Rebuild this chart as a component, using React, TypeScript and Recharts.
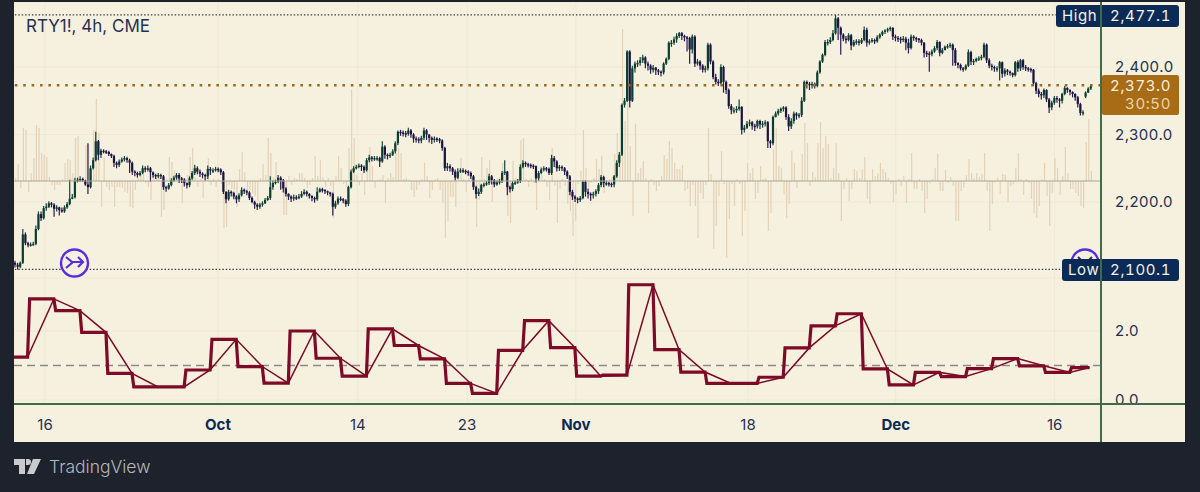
import React from 'react';
import {
  ComposedChart,
  Bar,
  Line,
  XAxis,
  YAxis,
  CartesianGrid,
  ReferenceLine
} from 'recharts';

// 4h bars
const closes = [
  2107,2104,2110,2152,2139,2136,2137,2138,2160,2182,2176,2191,2193,2198,2196,2190,2192,2188,2186,2192,
  2197,2205,2207,2231,2233,2234,2232,2226,2222,2250,2262,2290,2270,2276,2275,2274,2271,2268,2258,2255,
  2260,2263,2265,2262,2258,2245,2243,2240,2243,2250,2248,2250,2244,2240,2238,2240,2238,2222,2220,2225,
  2232,2236,2240,2235,2233,2228,2225,2235,2243,2250,2245,2242,2240,2238,2249,2247,2247,2249,2248,2244,
  2215,2204,2215,2213,2208,2204,2210,2218,2216,2214,2206,2200,2196,2193,2196,2198,2203,2206,2222,2228,
  2230,2236,2232,2220,2212,2208,2205,2207,2206,2208,2212,2215,2212,2209,2206,2204,2215,2219,2218,2216,
  2214,2212,2193,2198,2205,2204,2202,2197,2222,2245,2250,2252,2254,2252,2247,2262,2266,2264,2265,2265,
  2260,2282,2270,2268,2270,2275,2287,2304,2303,2302,2301,2306,2300,2294,2293,2291,2295,2306,2300,2295,
  2292,2294,2293,2291,2280,2250,2253,2250,2245,2236,2245,2247,2246,2245,2243,2238,2222,2212,2215,2225,
  2226,2228,2238,2232,2226,2229,2231,2243,2245,2222,2219,2228,2229,2231,2252,2258,2256,2255,2254,2253,
  2235,2243,2248,2250,2249,2243,2265,2260,2250,2252,2250,2245,2238,2215,2208,2205,2203,2206,2230,2215,
  2212,2210,2212,2216,2225,2237,2228,2228,2227,2226,2238,2258,2270,2344,2350,2423,2350,2398,2405,2406,
  2410,2414,2405,2402,2396,2399,2395,2393,2392,2405,2412,2436,2436,2441,2446,2450,2446,2444,2443,2426,
  2445,2405,2408,2402,2396,2398,2433,2408,2385,2378,2376,2400,2378,2366,2342,2336,2336,2338,2341,2307,
  2310,2316,2318,2313,2312,2320,2315,2316,2318,2290,2287,2326,2331,2335,2338,2340,2326,2312,2320,2331,
  2328,2329,2350,2378,2375,2373,2375,2372,2392,2408,2418,2437,2437,2440,2450,2472,2458,2448,2442,2440,
  2447,2432,2437,2438,2436,2440,2455,2436,2438,2440,2438,2444,2448,2452,2454,2456,2458,2445,2443,2442,
  2440,2442,2436,2428,2445,2443,2442,2440,2436,2421,2420,2419,2423,2428,2437,2421,2425,2430,2431,2433,
  2425,2406,2403,2398,2397,2402,2422,2408,2409,2412,2413,2415,2433,2410,2402,2400,2398,2398,2407,2390,
  2395,2393,2391,2388,2407,2398,2410,2400,2398,2397,2396,2376,2365,2360,2358,2366,2352,2340,2347,2354,
  2352,2350,2360,2369,2366,2363,2360,2355,2345,2332,2333,2362,2368,2372
];
const opens = [
  2110,2107,2104,2110,2152,2139,2136,2137,2138,2160,2182,2176,2191,2193,2198,2196,2190,2192,2188,2186,
  2192,2197,2205,2207,2231,2233,2234,2232,2226,2222,2250,2262,2290,2270,2276,2275,2274,2271,2268,2258,
  2255,2260,2263,2265,2262,2258,2245,2243,2240,2243,2250,2248,2250,2244,2240,2238,2240,2238,2222,2220,
  2225,2232,2236,2240,2235,2233,2228,2225,2235,2243,2250,2245,2242,2240,2238,2249,2247,2247,2249,2248,
  2244,2215,2204,2215,2213,2208,2204,2210,2218,2216,2214,2206,2200,2196,2193,2196,2198,2203,2206,2222,
  2228,2230,2236,2232,2220,2212,2208,2205,2207,2206,2208,2212,2215,2212,2209,2206,2204,2215,2219,2218,
  2216,2214,2212,2193,2198,2205,2204,2202,2197,2222,2245,2250,2252,2254,2252,2247,2262,2266,2264,2265,
  2265,2260,2282,2270,2268,2270,2275,2287,2304,2303,2302,2301,2306,2300,2294,2293,2291,2295,2306,2300,
  2295,2292,2294,2293,2291,2280,2250,2253,2250,2245,2236,2245,2247,2246,2245,2243,2238,2222,2212,2215,
  2225,2226,2228,2238,2232,2226,2229,2231,2243,2245,2222,2219,2228,2229,2231,2252,2258,2256,2255,2254,
  2253,2235,2243,2248,2250,2249,2243,2265,2260,2250,2252,2250,2245,2238,2215,2208,2205,2203,2206,2230,
  2215,2212,2210,2212,2216,2225,2237,2228,2228,2227,2226,2238,2258,2270,2344,2350,2423,2350,2398,2405,
  2406,2410,2414,2405,2402,2396,2399,2395,2393,2392,2405,2412,2436,2436,2441,2446,2450,2446,2444,2443,
  2426,2445,2405,2408,2402,2396,2398,2433,2408,2385,2378,2376,2400,2378,2366,2342,2336,2336,2338,2341,
  2307,2310,2316,2318,2313,2312,2320,2315,2316,2318,2290,2287,2326,2331,2335,2338,2340,2326,2312,2320,
  2331,2328,2329,2350,2378,2375,2373,2375,2372,2392,2408,2418,2437,2437,2440,2450,2472,2458,2448,2442,
  2440,2447,2432,2437,2438,2436,2440,2455,2436,2438,2440,2438,2444,2448,2452,2454,2456,2458,2445,2443,
  2442,2440,2442,2436,2428,2445,2443,2442,2440,2436,2421,2420,2419,2423,2428,2437,2421,2425,2430,2431,
  2433,2425,2406,2403,2398,2397,2402,2422,2408,2409,2412,2413,2415,2433,2410,2402,2400,2398,2398,2407,
  2390,2395,2393,2391,2388,2407,2398,2410,2400,2398,2397,2396,2376,2365,2360,2358,2366,2352,2340,2347,
  2354,2352,2350,2360,2369,2366,2363,2360,2355,2345,2332,2356,2362,2368
];
const highs = [
  2113,2110,2112,2160,2155,2141,2140,2141,2165,2186,2186,2194,2198,2201,2200,2198,2195,2193,2192,2195,
  2200,2233,2212,2236,2236,2238,2236,2233,2287,2254,2266,2304,2292,2279,2278,2277,2276,2272,2270,2260,
  2263,2266,2268,2267,2264,2260,2247,2245,2246,2254,2253,2254,2252,2245,2242,2243,2242,2240,2224,2228,
  2235,2239,2243,2243,2237,2235,2229,2238,2246,2255,2253,2248,2244,2242,2254,2252,2250,2252,2251,2250,
  2246,2216,2218,2217,2215,2210,2213,2222,2220,2218,2216,2208,2202,2198,2199,2201,2206,2209,2238,2232,
  2233,2240,2238,2234,2222,2213,2210,2211,2210,2212,2216,2219,2217,2213,2210,2208,2222,2221,2221,2219,
  2217,2215,2214,2202,2208,2208,2206,2204,2224,2248,2253,2255,2257,2256,2254,2265,2270,2268,2268,2268,
  2267,2290,2284,2272,2273,2278,2290,2306,2307,2306,2305,2310,2308,2302,2297,2296,2298,2310,2308,2300,
  2297,2297,2296,2295,2293,2282,2258,2256,2252,2248,2250,2250,2250,2248,2247,2245,2240,2224,2220,2227,
  2229,2231,2242,2240,2234,2232,2234,2246,2262,2246,2224,2231,2232,2234,2256,2262,2260,2258,2257,2256,
  2254,2246,2251,2253,2252,2251,2270,2268,2262,2255,2254,2252,2247,2240,2218,2210,2207,2209,2232,2232,
  2220,2214,2215,2219,2228,2240,2239,2232,2230,2229,2240,2262,2274,2346,2354,2425,2425,2402,2408,2410,
  2415,2418,2416,2408,2404,2403,2400,2397,2395,2407,2414,2438,2440,2445,2450,2452,2452,2448,2446,2445,
  2448,2447,2412,2410,2404,2402,2436,2435,2410,2390,2382,2404,2402,2380,2368,2345,2340,2342,2352,2342,
  2314,2320,2322,2320,2316,2322,2322,2320,2321,2320,2292,2328,2334,2338,2340,2342,2342,2330,2324,2334,
  2333,2332,2355,2380,2380,2378,2378,2377,2395,2410,2420,2440,2441,2444,2455,2477,2474,2460,2450,2446,
  2450,2449,2440,2441,2441,2443,2460,2458,2441,2443,2442,2447,2450,2454,2456,2458,2460,2459,2448,2446,
  2445,2446,2445,2442,2448,2447,2445,2443,2442,2437,2424,2423,2426,2431,2440,2438,2428,2432,2434,2436,
  2435,2428,2407,2405,2400,2404,2426,2424,2412,2414,2416,2418,2436,2435,2413,2405,2402,2401,2409,2408,
  2398,2397,2395,2392,2409,2410,2412,2412,2403,2400,2399,2397,2378,2368,2363,2368,2367,2354,2350,2357,
  2357,2354,2362,2372,2370,2367,2364,2361,2357,2347,2336,2364,2370,2374
];
const lows = [
  2103,2100,2102,2108,2136,2133,2134,2135,2136,2158,2172,2174,2187,2191,2192,2178,2186,2180,2184,2184,
  2190,2195,2204,2205,2229,2230,2230,2224,2212,2220,2248,2260,2262,2265,2272,2271,2268,2265,2252,2250,
  2252,2258,2260,2258,2243,2240,2238,2236,2238,2241,2244,2245,2230,2236,2234,2235,2234,2218,2215,2218,
  2223,2230,2233,2228,2228,2223,2220,2222,2233,2240,2241,2237,2235,2232,2234,2240,2243,2245,2244,2240,
  2212,2198,2202,2208,2204,2198,2200,2208,2212,2210,2203,2198,2190,2188,2190,2193,2197,2202,2203,2218,
  2226,2228,2218,2214,2208,2203,2200,2202,2203,2204,2206,2210,2208,2205,2201,2199,2202,2214,2214,2212,
  2210,2208,2180,2190,2196,2201,2198,2193,2194,2220,2243,2248,2250,2246,2243,2245,2259,2260,2261,2261,
  2252,2258,2264,2263,2265,2268,2272,2284,2298,2297,2296,2298,2295,2288,2288,2287,2287,2292,2292,2288,
  2286,2288,2289,2287,2276,2246,2246,2245,2240,2232,2234,2243,2243,2241,2239,2234,2218,2205,2209,2212,
  2222,2224,2225,2226,2222,2224,2226,2228,2240,2210,2214,2216,2225,2227,2228,2250,2252,2251,2250,2249,
  2229,2232,2241,2245,2245,2240,2240,2252,2245,2246,2246,2240,2234,2210,2203,2200,2198,2200,2204,2208,
  2205,2202,2205,2208,2212,2222,2222,2224,2223,2222,2222,2236,2252,2268,2340,2348,2340,2348,2392,2400,
  2402,2406,2398,2395,2390,2392,2388,2388,2386,2389,2403,2410,2430,2433,2436,2443,2440,2438,2423,2405,
  2420,2400,2402,2396,2392,2392,2395,2404,2382,2374,2372,2374,2362,2360,2338,2330,2331,2332,2335,2300,
  2303,2308,2312,2307,2305,2309,2308,2310,2312,2280,2280,2284,2325,2328,2332,2334,2322,2305,2308,2316,
  2322,2324,2326,2348,2368,2366,2368,2368,2370,2390,2406,2416,2432,2434,2438,2448,2440,2418,2438,2435,
  2438,2425,2430,2433,2432,2434,2438,2430,2433,2436,2434,2436,2442,2446,2449,2451,2453,2440,2438,2437,
  2435,2437,2425,2420,2426,2439,2437,2436,2432,2414,2415,2393,2416,2421,2425,2416,2419,2425,2427,2428,
  2402,2402,2398,2395,2393,2395,2400,2403,2403,2407,2409,2410,2413,2406,2398,2395,2393,2393,2380,2384,
  2386,2388,2387,2385,2386,2393,2394,2396,2394,2393,2392,2372,2360,2355,2352,2354,2348,2332,2336,2344,
  2347,2340,2346,2358,2362,2358,2355,2350,2340,2328,2328,2354,2362,2366
];
// histogram around the mid line of the price pane
const deltas = [
  3,17,-7,53,51,-11,8,23,56,53,28,26,24,4,-4,-9,-4,-4,2,18,
  22,21,8,43,45,2,4,36,37,10,51,82,48,-26,24,-6,-9,-6,-26,-6,
  -6,-7,-11,-12,-26,-27,-9,3,6,11,-2,-6,-19,8,3,6,-36,-29,2,24,
  19,11,4,4,-22,3,6,24,33,4,-6,2,-17,3,23,-4,2,-6,2,-3,
  -47,-46,-4,-8,-9,-26,12,29,9,-8,-10,-12,-15,-20,3,17,6,43,28,4,
  19,-3,-8,-34,-34,5,-4,3,2,8,8,3,-7,-4,3,25,5,21,4,-6,
  3,-5,-37,5,25,13,-3,-6,33,91,43,6,-4,8,-14,10,34,15,-7,1,
  2,6,-22,3,8,4,28,33,28,2,3,1,-9,-16,-9,-4,2,18,5,-17,
  -9,2,3,-9,-22,-57,-40,-16,-16,-26,3,23,2,-11,3,2,4,-46,-19,24,
  2,13,21,-21,2,3,4,18,11,-35,-42,20,3,2,41,43,2,-6,3,-2,
  -29,2,6,2,-6,-19,33,-5,-42,-8,2,-5,-23,-30,-55,-40,-3,10,51,13,
  -6,-2,3,22,12,25,-12,-3,2,4,27,48,20,152,60,98,35,-35,57,8,
  13,20,3,-32,2,-4,-10,-5,5,26,22,40,33,18,12,12,16,-10,-8,-25,
  -4,-25,-57,-12,-18,-4,53,7,-68,-45,-15,30,-3,-77,-38,-3,-25,2,-3,-55,
  -30,18,8,13,-18,-12,15,2,3,-50,-32,32,53,15,13,-13,-37,-23,30,18,
  -7,1,27,58,38,-5,9,4,38,59,33,45,37,3,13,38,8,-40,-8,3,
  -20,-8,12,10,3,12,24,-18,-23,12,5,8,18,12,9,3,-3,-21,-13,2,
  -5,5,-22,2,28,-8,-8,2,-10,-32,-18,-2,2,13,27,-10,-10,11,-2,4,
  -5,-40,-40,-10,-7,6,22,8,3,8,4,7,28,-10,-50,-23,-2,3,-13,7,
  6,-21,-5,-3,13,28,2,-14,2,-2,-18,-32,-37,-25,2,18,-15,-45,-12,23,
  13,-14,5,34,8,-8,-8,-12,-15,-25,-27,39,62,10
];

// lower pane: one value per 10 bar block
const leadIn = 1.24;
const blockValues = [
  2.93,2.59,1.96,0.77,0.38,0.38,0.87,1.76,0.97,0.49,
  2.0,1.21,0.69,2.06,1.58,1.19,0.48,0.19,1.44,2.3,
  1.52,0.69,0.72,3.34,1.46,0.81,0.48,0.48,0.66,1.51,
  2.15,2.5,0.9,0.44,0.8,0.68,0.91,1.2,0.99,0.8,0.94
];

const priceTicks = [2200, 2300, 2400];
const indicatorTicks = [0, 2];
const timeTicks = [11.4, 77.8, 131.5, 173.4, 215.2, 281.3, 338, 399];
const timeLabels = ['16', 'Oct', '14', '23', 'Nov', '18', 'Dec', '16'];
const boldLabels = ['Oct', 'Nov', 'Dec'];

const highPrice = 2477.1;
const lowPrice = 2100.1;
const lastPrice = 2373;

const chartData = closes.map((close, i) => ({
  i,
  open: opens[i],
  high: highs[i],
  low: lows[i],
  close,
  delta: deltas[i]
}));

const stepRows: any[] = [
  { x: -0.5, thick: leadIn },
  { x: 4.7, thick: leadIn, thin: leadIn }
];
blockValues.forEach((v, k) => {
  const start = 5.5 + k * 10;
  stepRows.push({ x: start, thick: v });
  stepRows.push({ x: Math.min(start + 9.3, 412.4), thick: v, thin: v });
});

const FONT = 'Inter, Roboto, sans-serif';
const PAPER = '#f6f0df';
const DARK = '#1e222d';
const NAVY = '#0b2a55';
const TEXT = '#1f3253';
const GREEN = '#3f6b49';
const GRID = '#efe8d6';
const WINE = '#7d0a26';
const VIOLET = '#5a2ce0';

const Candle = (props: any) => {
  const { x, width, y, height, payload } = props;
  const cx = x + width / 2;
  const k = height / (payload.high - payload.low);
  const yOf = (v: number) => y + (payload.high - v) * k;
  const up = payload.close >= payload.open;
  const top = yOf(Math.max(payload.open, payload.close));
  const bottom = yOf(Math.min(payload.open, payload.close));
  return (
    <g>
      <line x1={cx} x2={cx} y1={y} y2={y + height} stroke={up ? '#12463a' : '#2c1b55'} strokeWidth={1.2} />
      <rect
        x={cx - 1.1}
        y={top}
        width={2.2}
        height={Math.max(bottom - top, 1.4)}
        fill={up ? '#0b3d30' : '#191640'}
      />
    </g>
  );
};

const TimeTick = (props: any) => {
  const { x, y, payload } = props;
  const label = timeLabels[timeTicks.indexOf(payload.value)];
  const bold = boldLabels.includes(label);
  return (
    <text
      x={x}
      y={y + 18}
      textAnchor="middle"
      fontSize={15}
      fontFamily={FONT}
      fontWeight={bold ? 700 : 400}
      fill={bold ? NAVY : TEXT}
    >
      {label}
    </text>
  );
};

const Pill = ({ label, value, top, left }: any) => (
  <div
    style={{
      position: 'absolute',
      left,
      top,
      width: 1179 - left,
      height: 22,
      background: NAVY,
      borderRadius: 3,
      color: '#f2f2ee',
      fontSize: 15,
      lineHeight: '22px',
      letterSpacing: 0.6,
      fontVariantNumeric: 'tabular-nums'
    }}
  >
    <span style={{ position: 'absolute', left: 6 }}>{label}</span>
    <span style={{ position: 'absolute', right: 8 }}>{value}</span>
  </div>
);

const axisTick = { fill: TEXT, fontSize: 15, fontFamily: FONT, letterSpacing: 0.5, fontVariantNumeric: 'tabular-nums' };

export default function App() {
  return (
    <div
      style={{
        position: 'absolute',
        left: 0,
        top: 0,
        width: 1200,
        height: 492,
        overflow: 'hidden',
        background: DARK,
        fontFamily: FONT
      }}
    >
      {/* chart panel */}
      <div style={{ position: 'absolute', left: 14, top: 2, width: 1171, height: 440, background: PAPER }} />

      <div style={{ position: 'absolute', left: 14, top: 2 }}>
        <ComposedChart
          width={1171}
          height={276}
          data={chartData}
          margin={{ top: 0, right: 0, bottom: 0, left: 0 }}
        >
          <CartesianGrid yAxisId="price" stroke={GRID} />
          <XAxis dataKey="i" type="number" domain={[-0.5, 416.8]} ticks={timeTicks} hide />
          <XAxis xAxisId="hist" dataKey="i" type="number" domain={[-0.5, 416.8]} hide />
          <YAxis
            yAxisId="price"
            orientation="right"
            width={84}
            domain={[2087.4, 2496.3]}
            ticks={priceTicks}
            axisLine={false}
            tickLine={false}
            tickMargin={8}
            tick={axisTick}
            tickFormatter={(v: number) => v.toLocaleString('en-US', { minimumFractionDigits: 1 })}
          />
          <YAxis yAxisId="hist" domain={[-97, 179]} hide />
          <Bar
            xAxisId="hist"
            yAxisId="hist"
            dataKey="delta"
            barSize={1.2}
            fill="#e2d2b8"
            isAnimationActive={false}
          />
          <ReferenceLine yAxisId="hist" y={0} stroke="#aaa496" strokeWidth={1} />
          <ReferenceLine yAxisId="price" y={highPrice} stroke="#404040" strokeWidth={1.2} strokeDasharray="1.5 1.9" />
          <ReferenceLine yAxisId="price" y={lowPrice} stroke="#404040" strokeWidth={1.2} strokeDasharray="1.5 1.9" />
          <ReferenceLine yAxisId="price" y={lastPrice} stroke="#9c6a1b" strokeWidth={2.6} strokeDasharray="2.6 5.8" />
          <Bar
            yAxisId="price"
            dataKey={(d: any) => [d.low, d.high]}
            barSize={2}
            shape={Candle}
            isAnimationActive={false}
          />
        </ComposedChart>
      </div>

      <div style={{ position: 'absolute', left: 14, top: 278 }}>
        <ComposedChart
          width={1171}
          height={164}
          data={stepRows}
          margin={{ top: 0, right: 0, bottom: 0, left: 0 }}
        >
          <CartesianGrid stroke={GRID} />
          <XAxis
            dataKey="x"
            type="number"
            domain={[-0.5, 416.8]}
            ticks={timeTicks}
            height={38}
            axisLine={false}
            tickLine={false}
            tick={TimeTick}
          />
          <YAxis
            orientation="right"
            width={84}
            domain={[-0.116, 3.536]}
            ticks={indicatorTicks}
            axisLine={false}
            tickLine={false}
            tickMargin={8}
            tick={axisTick}
            tickFormatter={(v: number) => v.toFixed(1)}
          />
          <ReferenceLine y={1} stroke="#8d8b88" strokeWidth={1.3} strokeDasharray="8 5" />
          <Line dataKey="thin" connectNulls stroke={WINE} strokeWidth={1.5} dot={false} isAnimationActive={false} />
          <Line dataKey="thick" connectNulls stroke={WINE} strokeWidth={3.2} dot={false} isAnimationActive={false} />
        </ComposedChart>
      </div>

      {/* drawing tool markers */}
      <svg width={1200} height={492} style={{ position: 'absolute', left: 0, top: 0 }}>
        <circle cx={74.5} cy={263} r={13.5} fill={PAPER} stroke={VIOLET} strokeWidth={2.4} />
        <path d="M66 268 L73 262 M66 257 L72 262 H83 M78 257 L83 262 L78 267" fill="none" stroke={VIOLET} strokeWidth={2.2} />
        <circle cx={1085} cy={263} r={13.5} fill={PAPER} stroke={VIOLET} strokeWidth={2.4} />
        <path d="M1078 257 L1081 260 M1092 257 L1089 260" fill="none" stroke="#2c2a55" strokeWidth={2} />
      </svg>

      <div style={{ position: 'absolute', left: 26, top: 16, color: TEXT, fontSize: 17, lineHeight: '20px' }}>
        RTY1!, 4h, CME
      </div>

      <Pill label="High" value="2,477.1" top={5} left={1056} />
      <Pill label="Low" value="2,100.1" top={259} left={1062} />

      <div
        style={{
          position: 'absolute',
          left: 1102,
          top: 75,
          width: 77,
          height: 40,
          background: '#a86b16',
          borderRadius: 2,
          textAlign: 'right',
          fontSize: 15,
          lineHeight: '18px',
          paddingTop: 2,
          boxSizing: 'border-box',
          letterSpacing: 0.6,
          fontVariantNumeric: 'tabular-nums'
        }}
      >
        <div style={{ color: '#f8efdc', paddingRight: 8 }}>2,373.0</div>
        <div style={{ color: '#ecd3a3', paddingRight: 8 }}>30:50</div>
      </div>

      {/* cross lines over everything */}
      <div style={{ position: 'absolute', left: 1100, top: 2, width: 2, height: 440, background: GREEN }} />
      <div style={{ position: 'absolute', left: 14, top: 403, width: 1171, height: 2, background: GREEN }} />

      {/* footer */}
      <svg width={28} height={16} style={{ position: 'absolute', left: 14, top: 459 }}>
        <path d="M0 0 H11 V15 H5 V6 H0 Z M12 0 H14 A3 3 0 1 1 14 6 H12 Z M19 0 H27 L20 15 H13 Z" fill="#c9cace" />
      </svg>
      <div style={{ position: 'absolute', left: 49, top: 456, color: '#b5b7bc', fontSize: 17.5, fontWeight: 300, lineHeight: '22px' }}>
        TradingView
      </div>
    </div>
  );
}
